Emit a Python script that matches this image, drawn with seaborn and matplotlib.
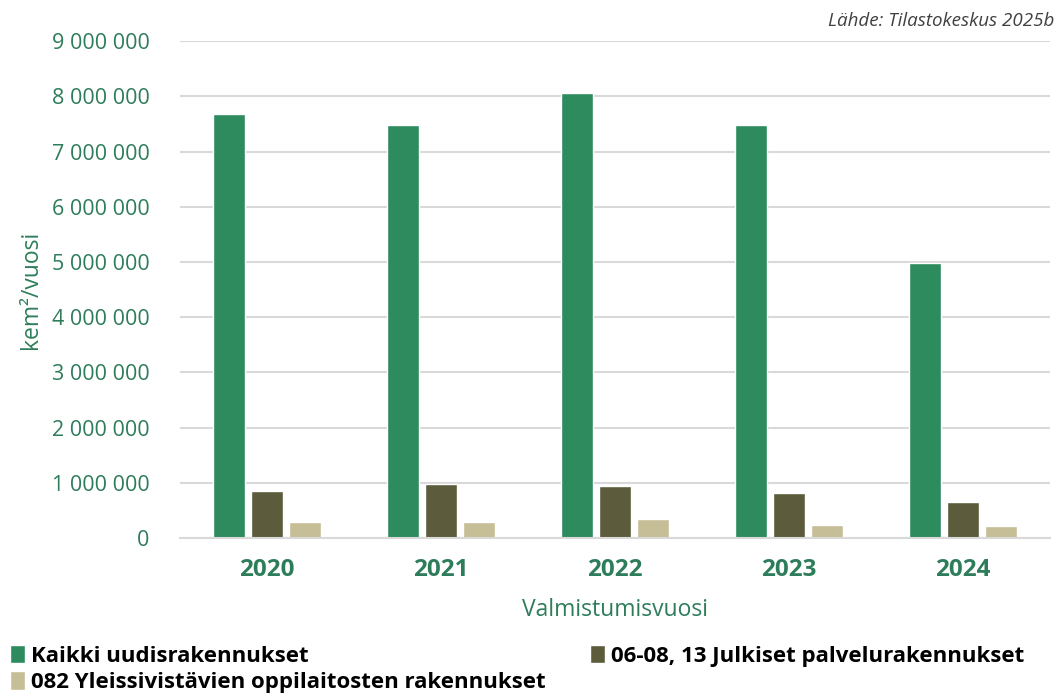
import matplotlib
matplotlib.use('Agg')
import matplotlib.pyplot as plt
import seaborn as sns
import pandas as pd
from matplotlib.ticker import FuncFormatter

years = ['2020', '2021', '2022', '2023', '2024']
kaikki = [7680000, 7480000, 8060000, 7480000, 4980000]
julkiset = [857000, 980000, 935000, 810000, 660000]
oppilaitokset = [295000, 290000, 350000, 240000, 220000]
series_names = ['Kaikki uudisrakennukset',
                '06-08, 13 Julkiset palvelurakennukset',
                '082 Yleissivistävien oppilaitosten rakennukset']
colors = ['#2E8B5E', '#5C5B3C', '#C6BE96']

df = pd.DataFrame({'year': years * 3,
                   'value': kaikki + julkiset + oppilaitokset,
                   'series': [s for s in series_names for _ in years]})

sns.set_style('white')
plt.rcParams['font.family'] = ['Open Sans', 'DejaVu Sans']

green = '#2E7D5A'
fig = plt.figure(figsize=(10.61, 6.97), dpi=100)
ax = fig.add_axes([0.1697, 0.228, 0.82, 0.713])

sns.barplot(data=df, x='year', y='value', hue='series', palette=colors,
            width=0.65, gap=0.15, ax=ax, legend=True, saturation=1)

ax.set_ylim(0, 9000000)
ax.set_xlim(-0.5, 4.5)
ax.set_yticks(range(0, 9000001, 1000000))
ax.yaxis.set_major_formatter(FuncFormatter(lambda v, p: f'{int(v):,}'.replace(',', ' ')))
ax.grid(axis='y', color='#D9D9D9', linewidth=1.5)
ax.set_axisbelow(True)
for s in ['top', 'right', 'left']:
    ax.spines[s].set_visible(False)
ax.spines['bottom'].set_color('#D9D9D9')
ax.spines['bottom'].set_linewidth(1.5)
ax.tick_params(axis='y', length=0, labelsize=15.5, labelcolor=green, pad=22)
ax.tick_params(axis='x', length=0, labelsize=17.5, labelcolor=green, pad=14)
for t in ax.get_xticklabels():
    t.set_fontweight('bold')

ax.set_ylabel('kem²/vuosi', fontsize=16.5, color=green, labelpad=6)
ax.set_xlabel('Valmistumisvuosi', fontsize=16.5, color=green, labelpad=12)

handles, labels = ax.get_legend_handles_labels()
ax.legend_.remove()
leg_kw = dict(frameon=False, handlelength=0.7, handleheight=0.9, handletextpad=0.25,
              labelspacing=0.2, borderaxespad=0, borderpad=0,
              prop={'weight': 'bold', 'size': 16})
leg1 = fig.legend([handles[0], handles[2]], [labels[0], labels[2]], loc='upper left', **leg_kw)
leg1.set_bbox_to_anchor((0.009, 0.075), transform=fig.transFigure)
leg2 = fig.legend([handles[1]], [labels[1]], loc='upper left', **leg_kw)
leg2.set_bbox_to_anchor((0.556, 0.075), transform=fig.transFigure)
for lg in (leg1, leg2):
    for t in lg.get_texts():
        t.set_color('black')

fig.text(0.994, 0.97, 'Lähde: Tilastokeskus 2025b', ha='right', va='center',
         fontsize=13.5, style='italic', color='#404040')

fig.savefig('out.png', dpi=100)
